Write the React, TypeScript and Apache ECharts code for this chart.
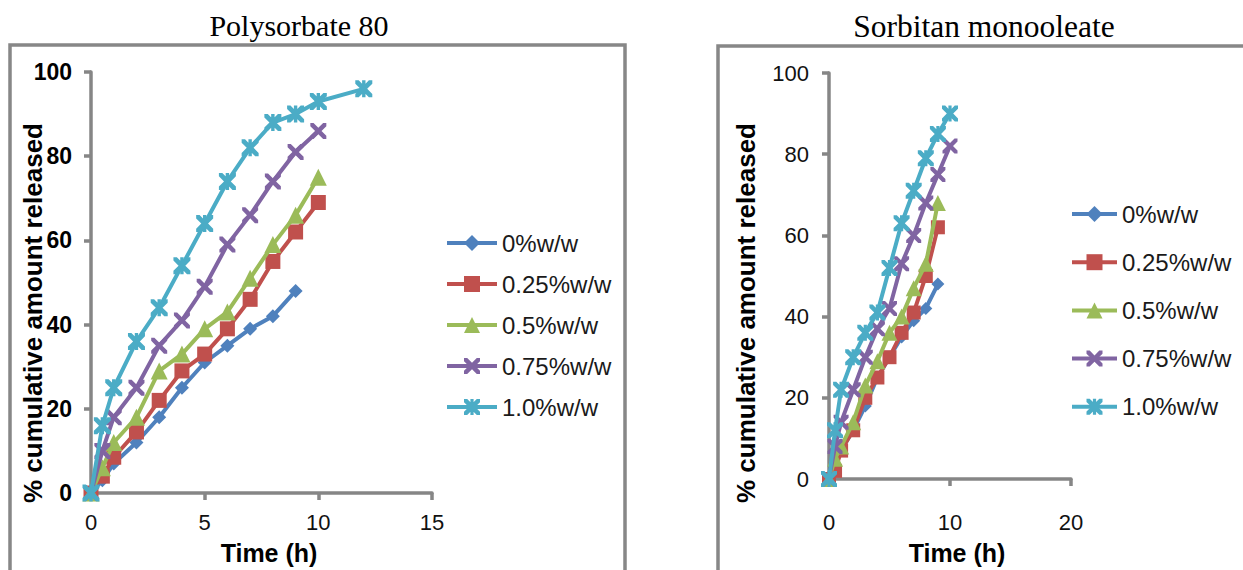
import React, { useEffect, useRef } from "react";
import * as echarts from "echarts";

// ---- data ----
const seriesNames = ["0%w/w", "0.25%w/w", "0.5%w/w", "0.75%w/w", "1.0%w/w"];
const colors = ["#4F81BD", "#C0504D", "#9BBB59", "#8064A2", "#4BACC6"];

const timesLeft = [0, 0.5, 1, 2, 3, 4, 5, 6, 7, 8, 9, 10, 12];
const poly0 = [0, 3, 7, 12, 18, 25, 31, 35, 39, 42, 48];
const poly025 = [0, 4, 8.5, 14.5, 22, 29, 33, 39, 46, 55, 62, 69];
const poly05 = [0, 6, 12, 18, 29, 33, 39, 43, 51, 59, 66, 75];
const poly075 = [0, 10, 18, 25, 35, 41, 49, 59, 66, 74, 81, 86];
const poly1 = [0, 16, 25, 36, 44, 54, 64, 74, 82, 88, 90, 93, 96];

const timesRight = [0, 0.5, 1, 2, 3, 4, 5, 6, 7, 8, 9, 10];
const sorb0 = [0, 3, 7, 12, 18, 25, 30, 35, 39, 42, 48];
const sorb025 = [0, 2, 7, 12, 20, 25, 30, 36, 41, 50, 62];
const sorb05 = [0, 5, 8, 14, 23, 29, 36, 40, 47, 53, 68];
const sorb075 = [0, 8, 14, 22, 30, 37, 42, 53, 60, 68, 75, 82];
const sorb1 = [0, 12, 22, 30, 36, 41, 52, 63, 71, 79, 85, 90];

const leftTitle = "Polysorbate 80";
const rightTitle = "Sorbitan monooleate";
const xName = "Time (h)";
const yName = "% cumulative amount released";

const X_SYMBOL =
  "path://M0,0 L2,0 L5,3 L8,0 L10,0 L10,2 L7,5 L10,8 L10,10 L8,10 L5,7 L2,10 L0,10 L0,8 L3,5 L0,2 Z";
const STAR_SYMBOL =
  "path://M0,0 L2,0 L5,3 L8,0 L10,0 L10,2 L7,5 L10,8 L10,10 L8,10 L5,7 L2,10 L0,10 L0,8 L3,5 L0,2 Z M4,0 L6,0 L6,10 L4,10 Z";
const symbols = ["diamond", "rect", "triangle", X_SYMBOL, STAR_SYMBOL];
const symSizeLeft = [14, 15, 17, 16, 17];
const symSizeRight = [13, 14, 16, 15, 16];

const SANS = "'Liberation Sans', Arial, sans-serif";
const SERIF = "'Liberation Serif', 'Times New Roman', serif";
const AXIS_GREY = "#868686";

function pairs(times: number[], vals: number[]) {
  return vals.map((v, i) => [times[i], v]);
}

export default function App() {
  const ref = useRef<HTMLDivElement>(null);
  useEffect(() => {
    if (!ref.current) return;
    const chart = echarts.init(ref.current, null, { renderer: "svg" });
    const leftData = [poly0, poly025, poly05, poly075, poly1];
    const rightData = [sorb0, sorb025, sorb05, sorb075, sorb1];

    const series: any[] = [];
    leftData.forEach((vals, i) => {
      series.push({
        name: seriesNames[i],
        type: "line",
        xAxisIndex: 0,
        yAxisIndex: 0,
        data: pairs(timesLeft, vals),
        symbol: symbols[i],
        symbolSize: symSizeLeft[i],
        color: colors[i],
        lineStyle: { width: 4, color: colors[i] },
        itemStyle: { color: colors[i] },
        z: 2 + i,
      });
    });
    rightData.forEach((vals, i) => {
      series.push({
        name: seriesNames[i],
        type: "line",
        xAxisIndex: 1,
        yAxisIndex: 1,
        data: pairs(timesRight, vals),
        symbol: symbols[i],
        symbolSize: symSizeRight[i],
        color: colors[i],
        lineStyle: { width: 4, color: colors[i] },
        itemStyle: { color: colors[i] },
        z: 2 + i,
      });
    });

    const axisLine = { show: true, onZero: false, lineStyle: { color: AXIS_GREY, width: 3.5 } };
    const axisTick = { show: true, length: 7, lineStyle: { color: AXIS_GREY, width: 3.5 } };

    const axisTitle = (text: string, x: number, y: number, rot: number) => ({
      type: "text",
      x,
      y,
      rotation: rot,
      silent: true,
      style: {
        text,
        align: "center",
        verticalAlign: "middle",
        font: `bold ${rot ? 26 : 25}px ${SANS}`,
        fill: "#000",
      },
    });

    const legendBase = {
      data: seriesNames,
      orient: "vertical",
      itemHeight: 20,
      selectedMode: false,
      lineStyle: { width: 4 },
      textStyle: { fontSize: 24, lineHeight: 24, color: "#1a1a1a", fontFamily: SANS },
    };

    const option: any = {
      animation: false,
      backgroundColor: "#ffffff",
      grid: [
        { left: 91, top: 72, width: 341, height: 421 },
        { left: 829, top: 73, width: 242, height: 406 },
      ],
      xAxis: [
        {
          type: "value",
          gridIndex: 0,
          min: 0,
          max: 15,
          interval: 5,
          axisLine,
          axisTick,
          splitLine: { show: false },
          axisLabel: { fontSize: 22, color: "#111", margin: 18, fontFamily: SANS },
        },
        {
          type: "value",
          gridIndex: 1,
          min: 0,
          max: 20,
          interval: 10,
          axisLine,
          axisTick,
          splitLine: { show: false },
          axisLabel: { fontSize: 22, color: "#111", margin: 32, fontFamily: SANS },
        },
      ],
      yAxis: [
        {
          type: "value",
          gridIndex: 0,
          min: 0,
          max: 100,
          interval: 20,
          axisLine,
          axisTick,
          splitLine: { show: false },
          axisLabel: { fontSize: 23, fontWeight: "bold", color: "#000", margin: 19, fontFamily: SANS },
        },
        {
          type: "value",
          gridIndex: 1,
          min: 0,
          max: 100,
          interval: 20,
          axisLine,
          axisTick,
          splitLine: { show: false },
          axisLabel: { fontSize: 22, color: "#111", margin: 20, fontFamily: SANS },
        },
      ],
      legend: [
        { ...legendBase, left: 440, top: 226, itemWidth: 50, itemGap: 17 },
        { ...legendBase, left: 1065, top: 197, itemWidth: 45, itemGap: 24.2 },
      ],
      graphic: [
        {
          type: "rect",
          silent: true,
          z: -10,
          shape: { x: 10, y: 45, width: 615, height: 600 },
          style: { fill: "none", stroke: "#878787", lineWidth: 3.5 },
        },
        {
          type: "rect",
          silent: true,
          z: -10,
          shape: { x: 718, y: 46, width: 600, height: 600 },
          style: { fill: "none", stroke: "#878787", lineWidth: 3.5 },
        },
        {
          type: "text",
          x: 299,
          y: 25,
          silent: true,
          style: {
            text: leftTitle,
            align: "center",
            verticalAlign: "middle",
            font: `30px ${SERIF}`,
            fill: "#000",
          },
        },
        {
          type: "text",
          x: 984,
          y: 26,
          silent: true,
          style: {
            text: rightTitle,
            align: "center",
            verticalAlign: "middle",
            font: `31.5px ${SERIF}`,
            fill: "#000",
          },
        },
        axisTitle(xName, 269, 553, 0),
        axisTitle(xName, 957, 553, 0),
        axisTitle(yName, 33, 313, Math.PI / 2),
        axisTitle(yName, 746, 313, Math.PI / 2),
      ],
      series,
    };
    chart.setOption(option);
    return () => chart.dispose();
  }, []);

  return (
    <div
      ref={ref}
      style={{ position: "fixed", left: 0, top: 0, width: 1243, height: 570, background: "#fff" }}
    />
  );
}
